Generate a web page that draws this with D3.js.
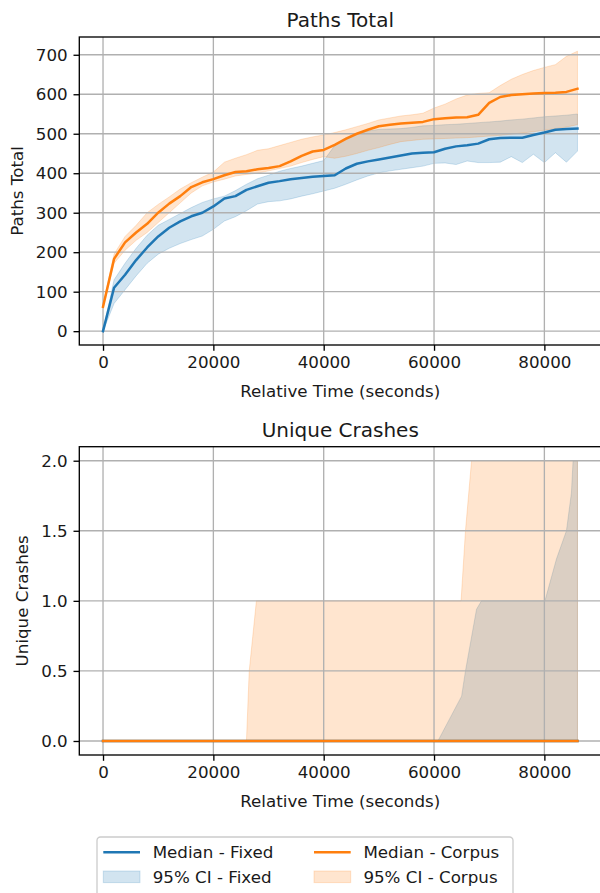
<!DOCTYPE html>
<html><head><meta charset="utf-8">
<script src="https://cdn.jsdelivr.net/npm/d3@7"></script>
<style>
body{margin:0;background:#fff}
svg{display:block}
text{font-family:"DejaVu Sans",sans-serif;fill:#1a1a1a}
</style>
</head><body>
<svg id="c" width="600" height="893"></svg>
<script>
// ---------- DATA ----------
const times = [0,2000,4000,6000,8000,10000,12000,14000,16000,18000,20000,22000,24000,26000,28000,30000,32000,34000,36000,38000,40000,42000,44000,46000,48000,50000,52000,54000,56000,58000,60000,62000,64000,66000,68000,70000,72000,74000,76000,78000,80000,82000,84000,86000];
const pathsMedianFixed = [0,110,143,180,212,240,262,278,291,300,316,336,342,358,367,376,380,385,388,391,393,395,412,424,430,435,440,445,450,452,453,462,468,471,475,486,489,490,490,497,503,510,512,513];
const pathsLowerFixed = [0,70,105,140,172,195,210,222,232,241,258,279,290,305,322,328,330,335,342,348,355,362,372,383,393,401,406,410,414,418,425,426,422,431,427,427,428,442,427,448,427,452,428,456];
const pathsUpperFixed = [0,130,172,210,243,268,283,298,313,326,335,342,356,372,386,395,405,412,418,425,432,470,490,500,507,511,512,513,516,520,521,523,524,526,528,530,532,535,537,540,543,545,547,550];
const pathsMedianCorpus = [62,183,225,250,272,300,323,342,365,377,385,395,403,405,410,413,418,430,444,455,459,472,487,500,510,519,523,526,528,530,537,539,541,542,548,578,593,598,600,602,603,604,606,614];
const pathsLowerCorpus = [58,172,205,230,250,275,300,325,350,368,378,385,393,397,400,406,412,418,427,435,442,438,443,450,458,465,473,480,483,486,487,488,489,490,492,494,496,499,502,505,509,513,517,523];
const pathsUpperCorpus = [66,195,240,268,300,321,340,360,376,390,403,428,438,447,458,462,470,478,486,492,497,503,510,518,526,535,540,545,548,552,565,575,588,598,602,604,622,638,650,660,668,675,696,709];

const crashMedianTimes = [0,86000];
const crashMedianFixed = [0,0];
const crashMedianCorpus = [0,0];
const crashTimesFixed = [0,60700,65000,65700,67700,68600,80100,82200,84000,84900,85200,86000];
const crashUpperFixed = [0,0,0.32,0.5,0.94,1,1,1.3,1.5,1.77,2,2];
const crashTimesCorpus = [0,26000,26500,27800,64900,65700,66800,86000];
const crashUpperCorpus = [0,0,0.5,1,1,1.5,2,2];

const xTicks = [0,20000,40000,60000,80000];
const pathsYTicks = [0,100,200,300,400,500,600,700];
const crashYTicks = [0,0.5,1.0,1.5,2.0];

const BLUE = "#1f77b4", ORANGE = "#ff7f0e";

// ---------- DRAW ----------
const svg = d3.select("#c");
const L = 79.3, R = 601.2;
const tickLen = 5.8, tickPad = 5.8, fs = 16.7;

function panel(cfg){
  const g = svg.append("g");
  const x = d3.scaleLinear().domain([-4300, 90300]).range([L, R]);
  const y = d3.scaleLinear().domain(cfg.yDomain).range([cfg.bottom, cfg.top]);
  cfg.bands.forEach(b => {
    const data = b.t.map((t,i)=>({t, lo:b.lo[i], hi:b.hi[i]}));
    g.append("path").datum(data)
      .attr("d", d3.area().x(d=>x(d.t)).y0(d=>y(d.lo)).y1(d=>y(d.hi)))
      .attr("fill", b.color).attr("fill-opacity", 0.2)
      .attr("stroke", b.color).attr("stroke-opacity", 0.2).attr("stroke-width", 1);
  });
  g.append("g").selectAll("line").data(xTicks).join("line")
    .attr("x1", d=>x(d)).attr("x2", d=>x(d)).attr("y1", cfg.top).attr("y2", cfg.bottom)
    .attr("stroke", "#b0b0b0").attr("stroke-width", 1.33);
  g.append("g").selectAll("line").data(cfg.yTicks).join("line")
    .attr("x1", L).attr("x2", R).attr("y1", d=>y(d)).attr("y2", d=>y(d))
    .attr("stroke", "#b0b0b0").attr("stroke-width", 1.33);
  cfg.lines.forEach(l => {
    const data = l.t.map((t,i)=>({t, v:l.v[i]}));
    g.append("path").datum(data)
      .attr("d", d3.line().x(d=>x(d.t)).y(d=>y(d.v)))
      .attr("fill", "none").attr("stroke", l.color).attr("stroke-width", 2.5)
      .attr("stroke-linejoin", "round").attr("stroke-linecap", "square");
  });
  g.append("rect").attr("x", L).attr("y", cfg.top).attr("width", R-L).attr("height", cfg.bottom-cfg.top)
    .attr("fill", "none").attr("stroke", "#000").attr("stroke-width", 1.33);
  const xa = g.append("g").attr("transform", `translate(0,${cfg.bottom})`)
    .call(d3.axisBottom(x).tickValues(xTicks).tickFormat(d3.format("d")).tickSize(tickLen).tickPadding(tickPad).tickSizeOuter(0));
  const ya = g.append("g").attr("transform", `translate(${L},0)`)
    .call(d3.axisLeft(y).tickValues(cfg.yTicks).tickFormat(cfg.yFmt).tickSize(tickLen).tickPadding(tickPad).tickSizeOuter(0));
  [xa, ya].forEach(a => {
    a.select(".domain").remove();
    a.selectAll("line").attr("stroke", "#000").attr("stroke-width", 1.33);
    a.selectAll("text").attr("font-size", fs).attr("font-family", "DejaVu Sans").attr("fill", "#1a1a1a");
  });
  const cx = (L + R) / 2;
  g.append("text").attr("x", cx).attr("y", cfg.top - 10).attr("text-anchor", "middle")
    .attr("font-size", 20).text(cfg.title);
  g.append("text").attr("x", cx).attr("y", cfg.bottom + 51.5).attr("text-anchor", "middle")
    .attr("font-size", fs).text("Relative Time (seconds)");
  g.append("text").attr("transform", `translate(${cfg.ylabX},${(cfg.top+cfg.bottom)/2}) rotate(-90)`)
    .attr("text-anchor", "middle").attr("font-size", fs).text(cfg.ylabel);
}

panel({
  top: 37, bottom: 345, yDomain: [-35, 745], yTicks: pathsYTicks, yFmt: d3.format("d"),
  title: "Paths Total", ylabel: "Paths Total", ylabX: 23,
  bands: [
    {t: times, lo: pathsLowerFixed, hi: pathsUpperFixed, color: BLUE},
    {t: times, lo: pathsLowerCorpus, hi: pathsUpperCorpus, color: ORANGE}
  ],
  lines: [
    {t: times, v: pathsMedianFixed, color: BLUE},
    {t: times, v: pathsMedianCorpus, color: ORANGE}
  ]
});

panel({
  top: 446.7, bottom: 755, yDomain: [-0.1, 2.1], yTicks: crashYTicks, yFmt: d3.format(".1f"),
  title: "Unique Crashes", ylabel: "Unique Crashes", ylabX: 28,
  bands: [
    {t: crashTimesFixed, lo: crashTimesFixed.map(()=>0), hi: crashUpperFixed, color: BLUE},
    {t: crashTimesCorpus, lo: crashTimesCorpus.map(()=>0), hi: crashUpperCorpus, color: ORANGE}
  ],
  lines: [
    {t: crashMedianTimes, v: crashMedianFixed, color: BLUE},
    {t: crashMedianTimes, v: crashMedianCorpus, color: ORANGE}
  ]
});

// ---------- LEGEND ----------
const legendItems = [
  {label: "Median - Fixed", color: BLUE, kind: "line", col: 0, row: 0},
  {label: "95% CI - Fixed", color: BLUE, kind: "patch", col: 0, row: 1},
  {label: "Median - Corpus", color: ORANGE, kind: "line", col: 1, row: 0},
  {label: "95% CI - Corpus", color: ORANGE, kind: "patch", col: 1, row: 1}
];
const lg = svg.append("g");
lg.append("rect").attr("x", 97).attr("y", 837).attr("width", 416).attr("height", 80)
  .attr("rx", 3.5).attr("fill", "#fff").attr("fill-opacity", 0.8)
  .attr("stroke", "#cccccc").attr("stroke-width", 1.33);
const colX = [103.3, 314], rowY = [852.3, 876.8];
legendItems.forEach(it => {
  const hx = colX[it.col], cy = rowY[it.row];
  if (it.kind === "line") {
    lg.append("line").attr("x1", hx).attr("x2", hx + 36.7).attr("y1", cy).attr("y2", cy)
      .attr("stroke", it.color).attr("stroke-width", 2.5);
  } else {
    lg.append("rect").attr("x", hx).attr("y", cy - 5.8).attr("width", 36.7).attr("height", 11.6)
      .attr("fill", it.color).attr("fill-opacity", 0.2)
      .attr("stroke", it.color).attr("stroke-opacity", 0.2).attr("stroke-width", 1);
  }
  lg.append("text").attr("x", hx + 49.4).attr("y", cy).attr("dy", "0.35em")
    .attr("font-size", fs).text(it.label);
});
</script>
</body></html>
